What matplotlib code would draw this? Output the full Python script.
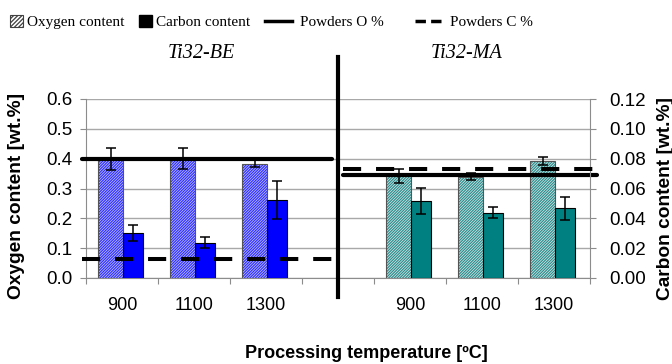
import matplotlib
matplotlib.use("Agg")
import matplotlib.pyplot as plt
import numpy as np
from matplotlib.patches import Patch
from matplotlib.lines import Line2D

# data
temps = ["900", "1100", "1300"]
o_be = [0.400, 0.400, 0.383]
o_be_err = [0.037, 0.036, 0.012]
c_be = [0.0300, 0.0237, 0.0523]
c_be_err = [0.0055, 0.0035, 0.0127]
o_ma = [0.341, 0.340, 0.393]
o_ma_err = [0.023, 0.013, 0.014]
c_ma = [0.0515, 0.0439, 0.0466]
c_ma_err = [0.0087, 0.0035, 0.0077]
powder_o_be = 0.40
powder_c_be = 0.0128
powder_o_ma = 0.345
powder_c_ma = 0.073

be_pos = np.array([0, 1, 2])
ma_pos = np.array([4, 5, 6])
be_span = [-0.56, 2.92]
ma_span = [3.07, 6.60]

plt.rcParams["hatch.linewidth"] = 0.9
sans = "Liberation Sans"
serif = "Liberation Serif"

W, H = 672, 364
fig = plt.figure(figsize=(W / 100, H / 100), dpi=100)
ax = fig.add_axes([86 / W, 1 - 278 / H, (590 - 86) / W, (278 - 99) / H])
ax2 = ax.twinx()

grey = "#8c8c8c"
o_left, o_w = -0.333, 0.347
c_left, c_w = 0.014, 0.278
dense = "/" * 12


def oxygen_bars(pos, vals, errs, face, hatch_col):
    ax.bar(pos + o_left, vals, o_w, align="edge", color=face,
           edgecolor=hatch_col, hatch=dense, linewidth=0, zorder=2)
    ax.bar(pos + o_left, vals, o_w, align="edge", fill=False,
           edgecolor="#555555", linewidth=0.8, zorder=2)
    ax.errorbar(pos + o_left + o_w / 2, vals, yerr=errs, fmt="none",
                ecolor="black", elinewidth=1.1, capsize=3.6, capthick=1.1,
                zorder=5)


def carbon_bars(pos, vals, errs, color):
    ax2.bar(pos + c_left, vals, c_w, align="edge", color=color,
            edgecolor="black", linewidth=0.8, zorder=2)
    ax2.errorbar(pos + c_left + c_w / 2, vals, yerr=errs, fmt="none",
                 ecolor="black", elinewidth=1.1, capsize=3.6, capthick=1.1,
                 zorder=5)


oxygen_bars(be_pos, o_be, o_be_err, "#d0d0ff", "#3030ff")
oxygen_bars(ma_pos, o_ma, o_ma_err, "#e0f0f0", "#2f8c8c")
carbon_bars(be_pos, c_be, c_be_err, "#0000ff")
carbon_bars(ma_pos, c_ma, c_ma_err, "#008080")

# powder reference lines
ax.plot(be_span, [powder_o_be] * 2, color="black", lw=3,
        solid_capstyle="round", clip_on=False, zorder=4)
ax.plot(ma_span, [powder_o_ma] * 2, color="black", lw=3,
        solid_capstyle="round", clip_on=False, zorder=4)
ax2.plot(be_span, [powder_c_be] * 2, color="black", lw=2.9,
         dashes=(4.5, 3.7), clip_on=False, zorder=4)
ax2.plot(ma_span, [powder_c_ma] * 2, color="black", lw=2.9,
         dashes=(4.5, 3.7), clip_on=False, zorder=4)

# divider between the two materials
ax2.axvline(3, ymin=-0.107, ymax=1.237, color="black", lw=3,
            clip_on=False, zorder=6)

ax.set_xlim(-0.5, 6.5)
ax.set_ylim(0, 0.6)
ax2.set_ylim(0, 0.12)

ax.set_xticks(np.arange(-0.5, 7, 1))
ax.set_xticklabels([])
ax.set_xticks(list(be_pos) + list(ma_pos), minor=True)
ax.set_xticklabels(temps + temps, minor=True)
ax.tick_params(axis="x", which="major", length=4, color=grey)
ax.tick_params(axis="x", which="minor", length=0, pad=14,
               labelsize=13)

ax.set_yticks(np.arange(0, 0.61, 0.1))
ax.set_yticklabels([f"{v:.1f}" for v in np.arange(0, 0.61, 0.1)])
ax2.set_yticks(np.arange(0, 0.121, 0.02))
ax2.set_yticklabels([f"{v:.2f}" for v in np.arange(0, 0.121, 0.02)])
ax.tick_params(axis="y", length=4, color=grey, labelsize=13.5, pad=6)
ax2.tick_params(axis="y", length=4, color=grey, labelsize=13.5, pad=10)

for lab in ax.get_xticklabels(minor=True) + ax.get_yticklabels() + ax2.get_yticklabels():
    lab.set_fontfamily(sans)

ax.yaxis.grid(True, color="#a8a8a8", lw=1)
ax.set_axisbelow(True)
for s in ("top", "right"):
    ax.spines[s].set_visible(False)
for s in ("top", "left", "bottom"):
    ax2.spines[s].set_visible(False)
for sp in (ax.spines["left"], ax.spines["bottom"], ax2.spines["right"]):
    sp.set_color(grey)

fig.text(17 / W, 1 - 196 / H, "Oxygen content [wt.%]", rotation=90,
         ha="center", va="center", fontsize=13.8, fontweight="bold",
         family=sans)
fig.text(665 / W, 1 - 198 / H, "Carbon content [wt.%]", rotation=90,
         ha="center", va="center", fontsize=13.8, fontweight="bold",
         family=sans)
fig.text(366 / W, 1 - 354 / H, "Processing temperature [ºC]",
         ha="center", va="center", fontsize=13, fontweight="bold",
         family=sans)

fig.text(201 / W, 1 - 53 / H, "Ti32-BE", ha="center", va="center",
         fontsize=14.5, style="italic", family=serif)
fig.text(467 / W, 1 - 53 / H, "Ti32-MA", ha="center", va="center",
         fontsize=14.5, style="italic", family=serif)

# legend: squares and lines have different handle sizes, so two legends
prop = {"family": serif, "size": 11}
box_handles = [
    Patch(facecolor="white", edgecolor="#404040", hatch="/" * 8, lw=0.8),
    Patch(facecolor="black", edgecolor="black"),
]
line_handles = [
    Line2D([], [], color="black", lw=2.5),
    Line2D([], [], color="black", lw=2.5, dashes=(3, 1.5)),
]
fig.legend(box_handles, ["Oxygen content", "Carbon content"],
           loc="center left", bbox_to_anchor=(10 / W, 1 - 22 / H),
           ncol=2, frameon=False, prop=prop, borderpad=0, borderaxespad=0,
           handlelength=0.85, handleheight=0.85, handletextpad=0.25,
           columnspacing=1.0)
fig.legend(line_handles, ["Powders O %", "Powders C %"],
           loc="center left", bbox_to_anchor=(265 / W, 1 - 22 / H),
           ncol=2, frameon=False, prop=prop, borderpad=0, borderaxespad=0,
           handlelength=1.76, handletextpad=0.55, columnspacing=2.0)

fig.savefig("out.png", dpi=100)
